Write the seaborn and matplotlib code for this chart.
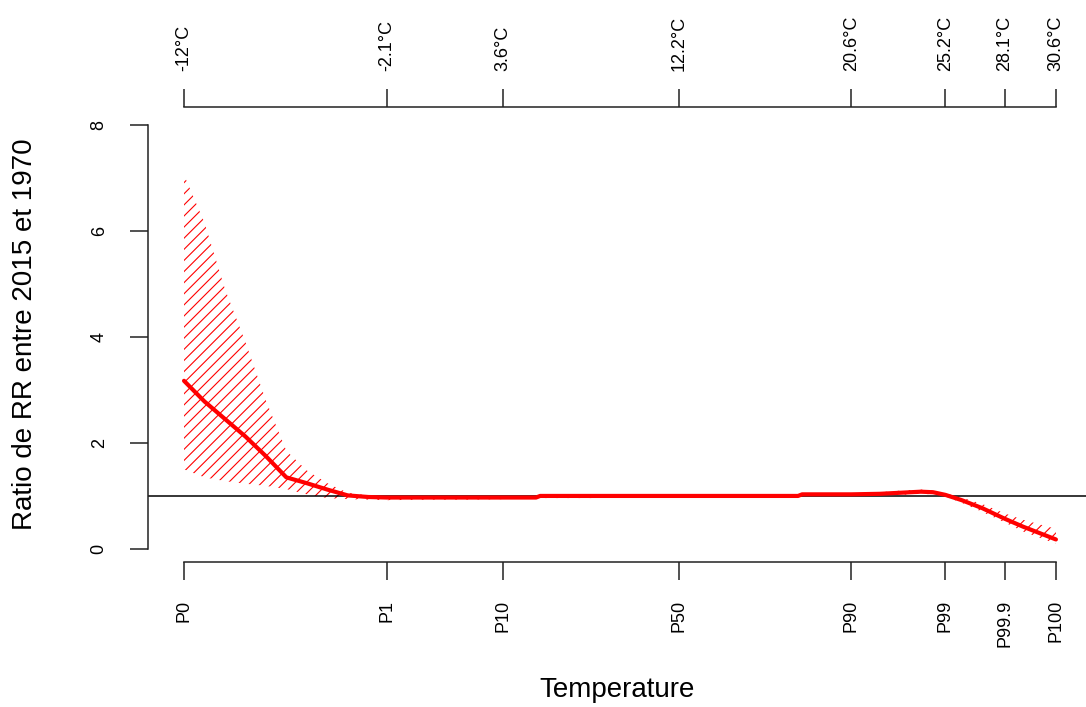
import numpy as np
import pandas as pd
import seaborn as sns
import matplotlib
matplotlib.use('Agg')
import matplotlib.pyplot as plt

# temperature grid (°C) and ratio of RR 2015 / 1970 with its confidence band
temp = [-12, -11, -10, -9, -8, -7, -6, -5, -4, -3, -2.1, 0, 2, 3.6, 5.2, 5.4,
        8, 10, 12.2, 16, 18, 18.2, 20.6, 22, 23, 24, 24.6, 25.2, 26, 27, 28.1, 29, 30.6]
ratio = [3.17, 2.78, 2.45, 2.12, 1.75, 1.35, 1.24, 1.12, 1.01, 0.98, 0.97, 0.97, 0.97, 0.97, 0.97, 1.0,
         1.0, 1.0, 1.0, 1.0, 1.0, 1.03, 1.03, 1.04, 1.06, 1.08, 1.07, 1.02, 0.92, 0.77, 0.57, 0.42, 0.18]
lower = [1.50, 1.35, 1.28, 1.23, 1.19, 1.13, 1.03, 0.96, 0.94, 0.93, 0.92, 0.93, 0.93, 0.94, 0.95, 0.96,
         0.96, 0.97, 0.99, 0.99, 0.99, 1.01, 1.01, 1.02, 1.02, 1.04, 1.03, 0.99, 0.87, 0.70, 0.50, 0.33, 0.10]
upper = [7.05, 6.15, 4.90, 3.90, 2.80, 1.85, 1.48, 1.24, 1.06, 1.01, 0.98, 0.98, 0.98, 0.98, 0.98, 1.01,
         1.01, 1.01, 1.01, 1.01, 1.01, 1.04, 1.05, 1.07, 1.10, 1.12, 1.10, 1.05, 0.97, 0.85, 0.67, 0.55, 0.38]

pct_ticks = [-12, -2.1, 3.6, 12.2, 20.6, 25.2, 28.1, 30.6]
pct_labels = ['P0', 'P1', 'P10', 'P50', 'P90', 'P99', 'P99.9', 'P100']
deg_labels = ['-12°C', '-2.1°C', '3.6°C', '12.2°C', '20.6°C', '25.2°C', '28.1°C', '30.6°C']
y_ticks = [0, 2, 4, 6, 8]

df = pd.DataFrame({'temp': temp, 'ratio': ratio, 'lower': lower, 'upper': upper})

sns.set_style('white')
plt.rcParams['font.family'] = ['Liberation Sans', 'DejaVu Sans']
plt.rcParams['hatch.linewidth'] = 0.8
plt.rcParams['text.color'] = 'black'
plt.rcParams['xtick.color'] = '#222222'
plt.rcParams['ytick.color'] = '#222222'
plt.rcParams['xtick.labelcolor'] = 'black'
plt.rcParams['ytick.labelcolor'] = 'black'

W, H = 1086, 707
fig = plt.figure(figsize=(W / 100, H / 100), dpi=100)
ax = fig.add_axes([148 / W, (H - 562) / H, (W - 148) / W, (562 - 107) / H])

# hatched confidence band
ax.fill_between(df['temp'], df['lower'], df['upper'], facecolor='none',
                edgecolor='red', hatch='///', linewidth=0)
ax.axhline(1, color='black', lw=1.1, zorder=1)
sns.lineplot(data=df, x='temp', y='ratio', color='red', lw=3, ax=ax, zorder=3)

ax.set_xlim(-13.76, 32.07)
ax.set_ylim(-0.245, 8.33)
ax.set_xlabel('')
ax.set_ylabel('')

for s in ['top', 'right']:
    ax.spines[s].set_visible(False)
ax.spines['left'].set_bounds(0, 8)
ax.spines['bottom'].set_bounds(-12, 30.6)
for s in ['left', 'bottom']:
    ax.spines[s].set_linewidth(1.1)
    ax.spines[s].set_color('#222222')

ax.set_xticks(pct_ticks, labels=pct_labels, rotation=90)
ax.set_yticks(y_ticks)
ax.tick_params(axis='x', bottom=True, length=13, width=1.1, pad=14, labelsize=13)
ax.tick_params(axis='y', left=True, length=13, width=1.1, pad=16, labelsize=13)
for lab in ax.get_yticklabels():
    lab.set_rotation(90)
    lab.set_va('center')

top = ax.secondary_xaxis('top')
top.set_xticks(pct_ticks, labels=deg_labels, rotation=90)
top.spines['top'].set_bounds(-12, 30.6)
top.spines['top'].set_linewidth(1.1)
top.spines['top'].set_color('#222222')
top.tick_params(axis='x', top=True, length=13, width=1.1, pad=13, labelsize=13)

fig.text(25 / W, (H - 334) / H, 'Ratio de RR entre 2015 et 1970', rotation=90,
         ha='center', va='center', fontsize=20)
fig.text(617 / W, (H - 690) / H, 'Temperature', ha='center', va='center', fontsize=20)

fig.savefig('out.png', dpi=100)
